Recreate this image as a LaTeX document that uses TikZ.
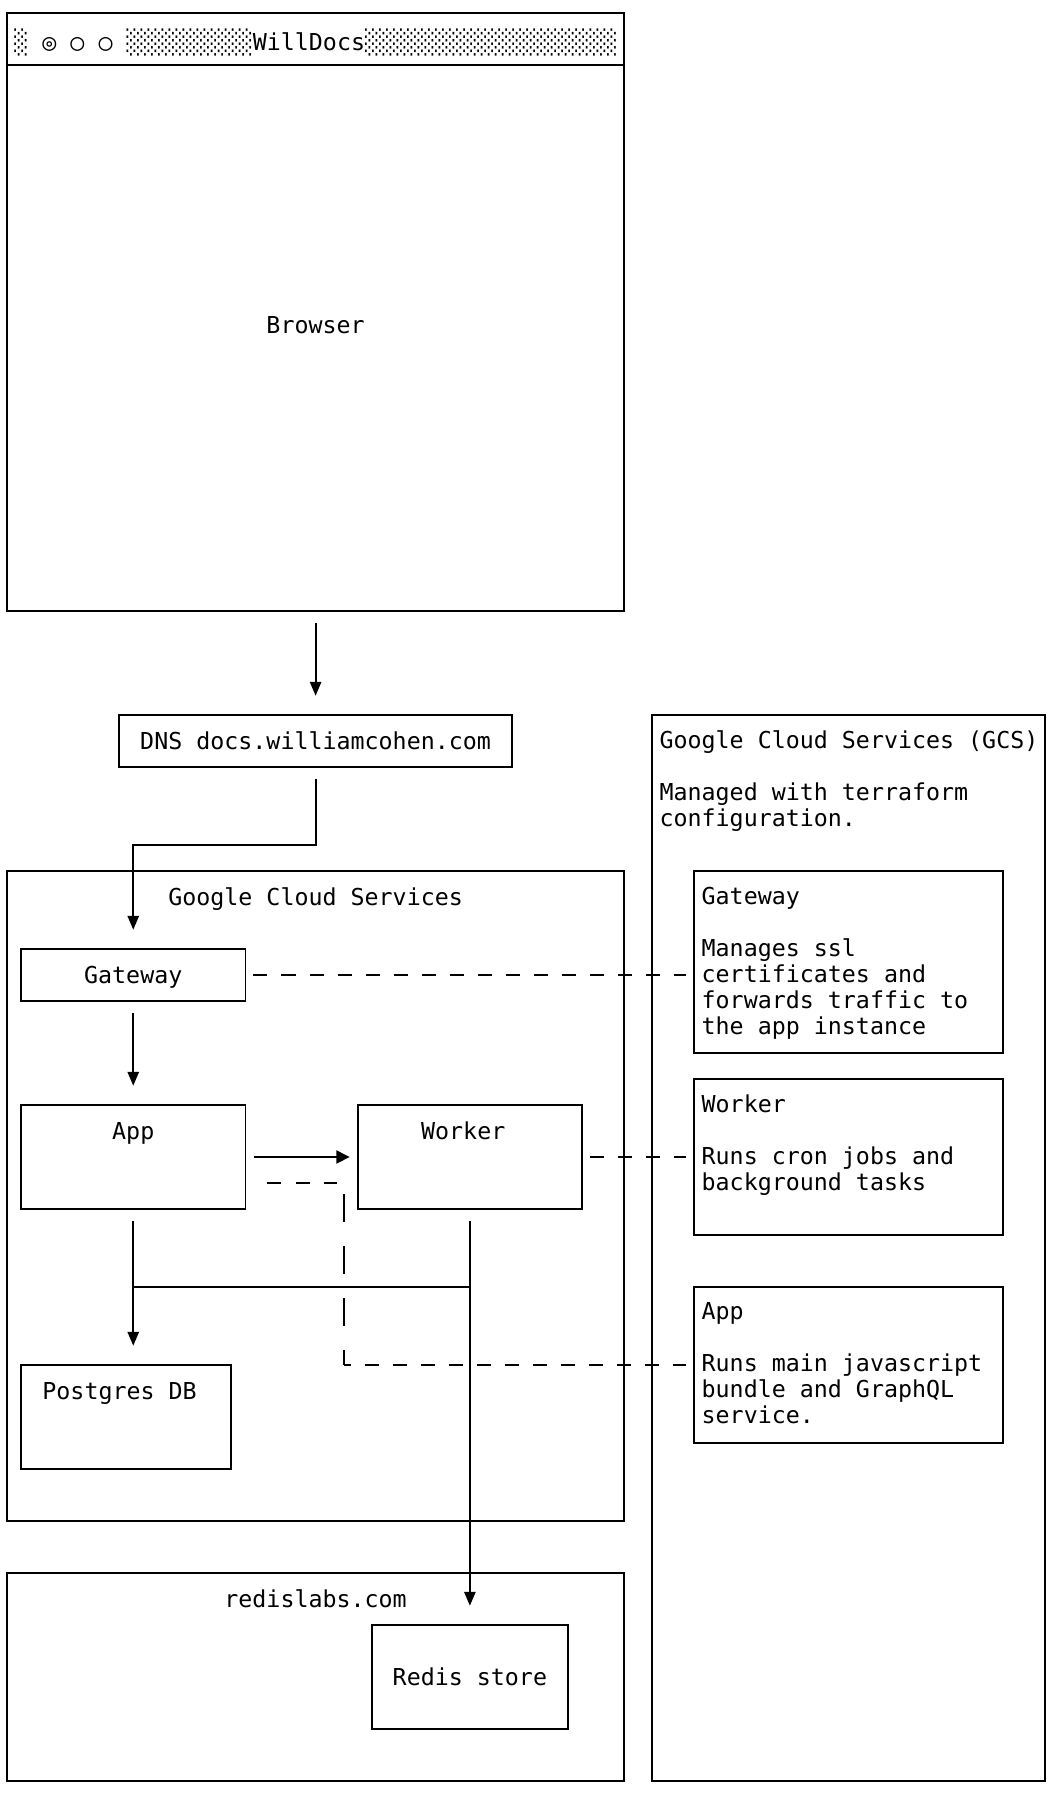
\documentclass[tikz,border=0pt]{standalone}
\usepackage{fontspec}
\newfontfamily\bobfont{DejaVu Sans Mono}
\usetikzlibrary{arrows.meta,calc,fit}
\tikzset{
  box/.style={draw, line width=1.1pt, inner sep=0pt},
  txt/.style={inner sep=0pt, align=left,
    font=\bobfont\fontsize{13.26pt}{14.79pt}\selectfont,
    execute at begin node=\strut},
  wire/.style={draw, line width=1.1pt},
  flow/.style={wire,
    -{Triangle[length=0.1pt,width=0.1pt,line width=0pt,sep=3.8pt]Triangle[length=7.9pt,width=6.4pt]},
    shorten <=6.4pt, shorten >=10.4pt},
  flowh/.style={wire, -{Triangle[length=7.6pt,width=7.4pt]},
    shorten <=4.4pt, shorten >=4pt},
  dashh/.style={wire, dash pattern=on 7.98pt off 7.98pt},
  dashv/.style={wire, dash pattern=on 16pt off 13.6pt}
}
\begin{document}
\begin{tikzpicture}[x=0.280533cm, y=-0.52cm]
\useasboundingbox (-0.5,-0.5) rectangle (74.5,68.577);

\node[box, fit={(0,0) (44,23)}] (browser) {};
\coordinate (titlerule) at (0,2);
\draw[wire] (browser.west |- titlerule) -- (browser.east |- titlerule);
\node[txt, anchor=north west] (titlebar) at (0.5,0.6) {░ ◎ ○ ○ ░░░░░░░░░WillDocs░░░░░░░░░░░░░░░░░░};
\node[txt, anchor=north] (browserlbl) at (22,11.6) {Browser};

\node[box, fit={(8,27) (36,29)}] (dns) {};
\node[txt, anchor=north] (dnslbl) at (22,27.6) {DNS docs.williamcohen.com};

\node[box, fit={(46,27) (74,68)}] (gcsnote) {};
\node[txt, anchor=north west] (gcslbl) at (46.5,27.6)
  {Google Cloud Services (GCS)\\ \\Managed with terraform\\configuration.};

\node[box, fit={(0,33) (44,58)}] (cloud) {};
\node[txt, anchor=north] (cloudlbl) at (22,33.6) {Google Cloud Services};
\node[box, fit={(1,36) (17,38)}] (gateway) {};
\node[txt, anchor=north] (gatewaylbl) at (9,36.6) {Gateway};
\node[box, fit={(1,42) (17,46)}] (app) {};
\node[txt, anchor=north] (applbl) at (9,42.6) {App};
\node[box, fit={(25,42) (41,46)}] (worker) {};
\node[txt, anchor=north west] (workerlbl) at (29.5,42.6) {Worker};
\node[box, fit={(1,52) (16,56)}] (postgres) {};
\node[txt, anchor=north west] (postgreslbl) at (2.5,52.6) {Postgres DB};

\node[box, fit={(0,60) (44,68)}] (redislabs) {};
\node[txt, anchor=north] (redislabslbl) at (22,60.6) {redislabs.com};
\node[box, fit={(26,62) (40,66)}] (redis) {};
\node[txt, anchor=north] (redislbl) at (33,63.6) {Redis store};

\node[box, fit={(49,33) (71,40)}] (gwinfo) {};
\node[txt, anchor=north west] (gwinfolbl) at (49.5,33.6)
  {Gateway\\ \\Manages ssl\\certificates and\\forwards traffic to\\the app instance};
\node[box, fit={(49,41) (71,47)}] (wkinfo) {};
\node[txt, anchor=north west] (wkinfolbl) at (49.5,41.6)
  {Worker\\ \\Runs cron jobs and\\background tasks};
\node[box, fit={(49,49) (71,55)}] (appinfo) {};
\node[txt, anchor=north west] (appinfolbl) at (49.5,49.6)
  {App\\ \\Runs main javascript\\bundle and GraphQL\\service.};

\draw[flow] (browser.south) -- (dns.north);
\coordinate (dnsturn) at (22,32);
\draw[flow] (dns.south) -- (dnsturn) -| (gateway.north);
\draw[flow] (gateway.south) -- (app.north);
\draw[flowh] (app.east) -- (worker.west);
\draw[flow] (app.south) -- (app.south |- postgres.north);
\draw[flow] (worker.south) -- (redis.north);
\coordinate (junction) at (0,49);
\draw[wire] (app.south |- junction) -- (worker.south |- junction);

\draw[dashh] ($(gateway.east)+(0.5,0)$) -- ($(gwinfo.west |- gateway.east)+(-0.5,0)$);
\draw[dashh] ($(worker.east)+(0.5,0)$) -- ($(wkinfo.west |- worker.east)+(-0.5,0)$);
\coordinate (apptee) at (24,45);
\coordinate (appcorner) at (24,52);
\draw[dashh] ($(app.east)+(1.5,1)$) -- ($(apptee)+(-0.5,0)$);
\draw[dashv] ($(apptee)+(0,0.42)$) -- (appcorner);
\draw[dashh, dash phase=3.99pt] (appcorner) -- ($(appinfo.west |- appcorner)+(-0.5,0)$);
\end{tikzpicture}
\end{document}
